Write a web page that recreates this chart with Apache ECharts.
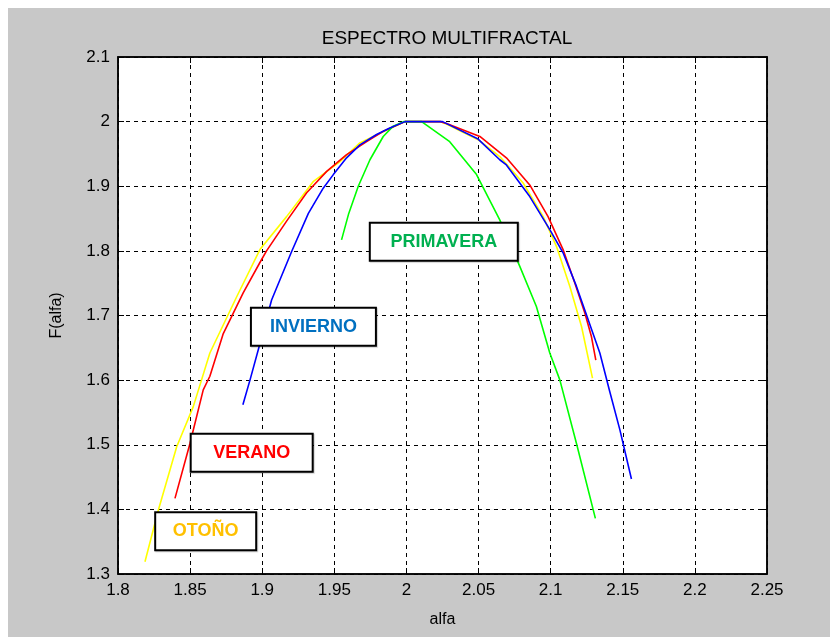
<!DOCTYPE html>
<html>
<head>
<meta charset="utf-8">
<script src="https://cdn.jsdelivr.net/npm/echarts@6/dist/echarts.min.js"></script>
<style>
html,body{margin:0;padding:0;background:#fff;}
#c{width:830px;height:637px;}
</style>
</head>
<body>
<div id="c"></div>
<script>
// ---- data ----
const xTicks = [1.8, 1.85, 1.9, 1.95, 2, 2.05, 2.1, 2.15, 2.2, 2.25];
const yTicks = [1.3, 1.4, 1.5, 1.6, 1.7, 1.8, 1.9, 2.0, 2.1];

const inviernoX = [1.8866, 1.8915, 1.8985, 1.9065, 1.9204, 1.932, 1.9423, 1.9493, 1.9585, 1.9677, 1.9793, 1.9885, 1.999, 2.025, 2.0497, 2.0647, 2.0693, 2.0855, 2.0994, 2.1086, 2.1179, 2.1248, 2.1341, 2.141, 2.148, 2.156];
const inviernoY = [1.562, 1.600, 1.657, 1.724, 1.799, 1.858, 1.897, 1.918, 1.944, 1.964, 1.980, 1.990, 2.000, 2.000, 1.973, 1.941, 1.933, 1.884, 1.833, 1.797, 1.745, 1.701, 1.642, 1.582, 1.523, 1.447];

const veranoX = [1.8395, 1.8499, 1.8591, 1.8637, 1.873, 1.8868, 1.8984, 1.903, 1.9169, 1.9308, 1.9447, 1.9585, 1.9724, 1.9839, 1.999, 2.0235, 2.0278, 2.0509, 2.0693, 2.0855, 2.0982, 2.1086, 2.1168, 2.1237, 2.1283, 2.1313];
const veranoY = [1.417, 1.502, 1.585, 1.606, 1.672, 1.735, 1.782, 1.800, 1.846, 1.890, 1.923, 1.949, 1.969, 1.985, 2.000, 2.000, 1.997, 1.977, 1.944, 1.902, 1.853, 1.802, 1.750, 1.704, 1.667, 1.631];

const otonoX = [1.8187, 1.828, 1.8407, 1.8522, 1.8637, 1.8823, 1.8984, 1.9169, 1.9353, 1.9539, 1.9677, 1.9816, 1.999, 2.0235, 2.028, 2.0497, 2.0647, 2.0809, 2.0948, 2.104, 2.1133, 2.1214, 2.129];
const otonoY = [1.319, 1.399, 1.497, 1.559, 1.642, 1.729, 1.802, 1.853, 1.907, 1.938, 1.967, 1.982, 2.000, 2.000, 1.996, 1.972, 1.946, 1.905, 1.853, 1.807, 1.745, 1.683, 1.603];

const primaveraX = [1.955, 1.96, 1.9666, 1.9747, 1.9839, 1.9908, 1.998, 2.0105, 2.0116, 2.03, 2.0486, 2.0647, 2.0786, 2.0901, 2.0994, 2.1064, 2.1179, 2.131];
const primaveraY = [1.817, 1.858, 1.900, 1.941, 1.977, 1.993, 2.000, 2.000, 1.998, 1.969, 1.918, 1.848, 1.776, 1.714, 1.642, 1.600, 1.502, 1.386];

// annotation labels
const labelNames = ['PRIMAVERA', 'INVIERNO', 'VERANO', 'OTOÑO'];
const labelX = [2.0259, 1.9355, 1.8927, 1.8608];
const labelY = [1.814, 1.6825, 1.4875, 1.3662];
const labelColors = ['#00b050', '#0070c0', '#ff0000', '#ffc000'];
const labelW = [146, 123, 120, 99];

const pairs = (xs, ys) => xs.map((x, i) => [x, ys[i]]);

const chart = echarts.init(document.getElementById('c'), null, {renderer: 'canvas'});

const FONT = '"Liberation Sans", Arial, sans-serif';

const gridLine = {show: true, lineStyle: {color: '#000', type: [4, 4], width: 1}};
const tickIn = {show: true, inside: true, length: 6, lineStyle: {color: '#000', width: 1}};

function lineSeries(name, xs, ys, color) {
  return {
    name, type: 'line', data: pairs(xs, ys), showSymbol: false, symbol: 'none',
    lineStyle: {color, width: 1.6}, itemStyle: {color}, animation: false, z: 3
  };
}

const series = [
  lineSeries('OTOÑO', otonoX, otonoY, '#ffff00'),
  lineSeries('VERANO', veranoX, veranoY, '#ff0000'),
  lineSeries('PRIMAVERA', primaveraX, primaveraY, '#00ff00'),
  lineSeries('INVIERNO', inviernoX, inviernoY, '#0000ff'),
  {
    type: 'scatter', itemStyle: {opacity: 1},
    data: labelNames.map((n, i) => ({
      value: [labelX[i], labelY[i]],
      label: {
        show: true, position: 'inside', formatter: n, opacity: 1,
        color: labelColors[i], fontSize: 18, fontWeight: 'bold', fontFamily: FONT,
        width: labelW[i], height: 36, lineHeight: 36, align: 'center', verticalAlign: 'middle',
        backgroundColor: '#ffffff', borderColor: '#000', borderWidth: 2,
        shadowColor: 'rgba(0,0,0,0.2)', shadowOffsetX: 1, shadowOffsetY: 1, shadowBlur: 1
      }
    })),
    symbolSize: 0, silent: true, animation: false, z: 5,
    emphasis: {disabled: true}
  }
];

chart.setOption({
  backgroundColor: '#fff',
  animation: false,
  graphic: [{
    type: 'rect', left: 8, top: 8, shape: {width: 822, height: 629},
    style: {fill: '#c8c8c8'}, z: -10, silent: true
  }],
  title: {
    text: 'ESPECTRO MULTIFRACTAL', left: 442, top: 24, textAlign: 'center',
    textStyle: {fontFamily: FONT, fontSize: 19, fontWeight: 'normal', color: '#000'}
  },
  grid: {left: 118, top: 57, width: 649, height: 517, show: true, backgroundColor: '#fff', borderColor: '#000', borderWidth: 1.5},
  xAxis: [{
    type: 'value', min: 1.8, max: 2.25, interval: 0.05,
    name: 'alfa', nameLocation: 'middle', nameGap: 38,
    nameTextStyle: {fontFamily: FONT, fontSize: 16, color: '#000'},
    axisLine: {show: true, lineStyle: {color: '#000', width: 1.5}},
    axisTick: tickIn, splitLine: gridLine,
    axisLabel: {fontFamily: FONT, fontSize: 17, color: '#000', margin: 8,
      formatter: v => { const t = xTicks.find(k => Math.abs(k - v) < 1e-6); return t === undefined ? '' : String(t); }}
  }, {
    type: 'value', min: 1.8, max: 2.25, interval: 0.05, position: 'top',
    axisLine: {show: true, lineStyle: {color: '#000', width: 1.5}},
    axisTick: tickIn, splitLine: {show: false}, axisLabel: {show: false}
  }],
  yAxis: [{
    type: 'value', min: 1.3, max: 2.1, interval: 0.1,
    name: 'F(alfa)', nameLocation: 'middle', nameGap: 53,
    nameTextStyle: {fontFamily: FONT, fontSize: 16, color: '#000'},
    axisLine: {show: true, lineStyle: {color: '#000', width: 1.5}},
    axisTick: tickIn, splitLine: gridLine,
    axisLabel: {fontFamily: FONT, fontSize: 17, color: '#000', margin: 8,
      formatter: v => { const t = yTicks.find(k => Math.abs(k - v) < 1e-6); return t === undefined ? '' : String(t); }}
  }, {
    type: 'value', min: 1.3, max: 2.1, interval: 0.1, position: 'right',
    axisLine: {show: true, lineStyle: {color: '#000', width: 1.5}},
    axisTick: tickIn, splitLine: {show: false}, axisLabel: {show: false}
  }],
  series: series
});
</script>
</body>
</html>
